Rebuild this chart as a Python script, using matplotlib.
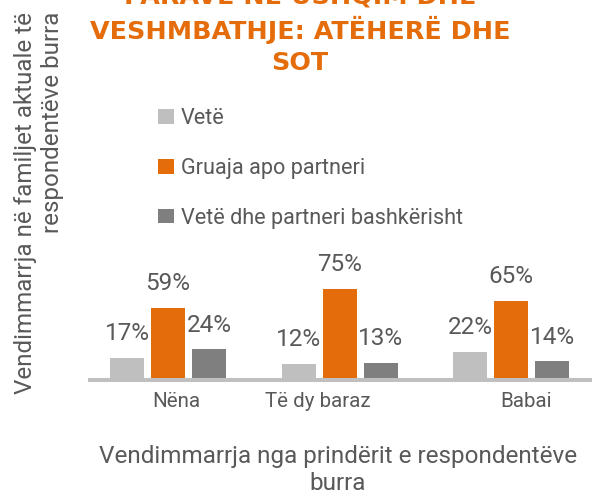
import matplotlib
matplotlib.use("Agg")
import matplotlib.pyplot as plt
from matplotlib.patches import Patch
import numpy as np

categories = ["Nëna", "Të dy baraz", "Babai"]
series_names = ["Vetë", "Gruaja apo partneri", "Vetë dhe partneri bashkërisht"]
vete = [17, 12, 22]
gruaja = [59, 75, 65]
bashke = [24, 13, 14]
value_labels = [["17%", "12%", "22%"], ["59%", "75%", "65%"], ["24%", "13%", "14%"]]
title_lines = ["PARAVE NË USHQIM DHE", "VESHMBATHJE: ATËHERË DHE", "SOT"]
xlabel = "Vendimmarrja nga prindërit e respondentëve\nburra"
ylabel = "Vendimmarrja në familjet aktuale të\nrespondentëve burra"

colors = ["#BFBFBF", "#E46C0A", "#7F7F7F"]
text_color = "#595959"
W, H = 595, 495
plt.rcParams['font.family'] = ['Roboto', 'DejaVu Sans']

fig = plt.figure(figsize=(W / 100, H / 100), dpi=100)

def fx(px):
    return px / W

def fy(py):
    return 1 - py / H

# axes: left 90px, right 590px, bottom (baseline) 378px, 1.19 px per %
ax_left, ax_right, base = 90, 590, 378
px_per = 1.19
ax = fig.add_axes([fx(ax_left), fy(base), fx(ax_right - ax_left), 100 * px_per / H])
pitch = 171.5
x = np.arange(len(categories))
ax.set_xlim((ax_left - 168) / pitch, (ax_right - 168) / pitch)
ax.set_ylim(0, 100)
bw = 34 / pitch
off = 41 / pitch

series = [vete, gruaja, bashke]
for i, (vals, c) in enumerate(zip(series, colors)):
    xs = x + (i - 1) * off
    ax.bar(xs, vals, width=bw, color=c, zorder=2, edgecolor='none')
    for xx, v, lab in zip(xs, vals, value_labels[i]):
        ax.annotate(lab, (xx, v), xytext=(0, 24), textcoords='offset pixels',
                    ha='center', va='center', fontsize=17.5, color=text_color)

ax.axhline(-1.7, color="#BFBFBF", linewidth=2.9, zorder=1, clip_on=False)

for s in ax.spines.values():
    s.set_visible(False)
ax.set_yticks([])
tick_pos = [0.047, 0.872, 2.087]
ax.set_xticks(tick_pos)
ax.set_xticklabels(categories, fontsize=14.8, color=text_color)
ax.tick_params(axis='x', length=0, pad=10)

# legend
handles = [Patch(facecolor=c, edgecolor='none') for c in colors]
fig.legend(handles, series_names, loc='upper left',
           bbox_to_anchor=(fx(154), fy(104)), frameon=False,
           fontsize=15.6, labelcolor=text_color, handlelength=0.7,
           handleheight=0.65, handletextpad=0.35, labelspacing=1.32,
           borderaxespad=0, borderpad=0.2)

# title
tkw = dict(ha='center', va='center', fontsize=18.3, fontweight='bold',
           color="#E46C0A", family=['DejaVu Sans'])
for line, yy in zip(title_lines, [-5, 30, 63]):
    fig.text(fx(300), fy(yy), line, **tkw)

# axis titles
fig.text(fx(338), fy(470), xlabel, ha='center', va='center', fontsize=17.5,
         color=text_color, linespacing=1.25)
fig.text(fx(39), fy(12), ylabel, ha='center', va='top', rotation=90,
         multialignment='right', fontsize=17.4, color=text_color, linespacing=1.25)

fig.savefig("out.png", dpi=100)
